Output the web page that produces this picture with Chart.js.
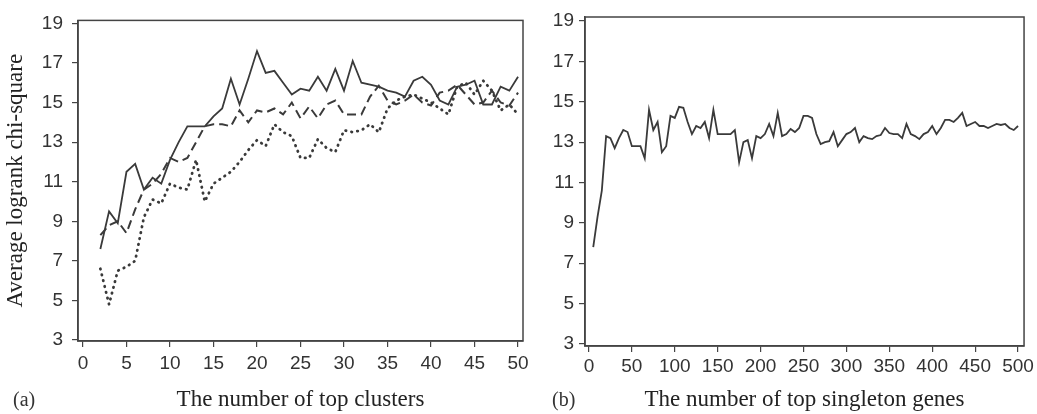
<!DOCTYPE html>
<html lang="en">
<head>
  <meta charset="UTF-8">
  <title>Average logrank chi-square</title>
  <script src="https://cdn.jsdelivr.net/npm/chart.js"></script>
  <style>
    body { margin: 0; background: #fff; }
    .wrap { position: relative; width: 1037px; height: 414px; }
    .panel { position: absolute; top: 0; height: 414px; }
    #boxA { left: 0; width: 545px; }
    #boxB { left: 545px; width: 492px; }
    .tag { position: absolute; top: 388px; font: 20px "Liberation Serif", serif; color: #333; }
  </style>
</head>
<body>
  <div class="wrap">
    <div class="panel" id="boxA"><canvas id="chartA"></canvas></div>
    <div class="panel" id="boxB"><canvas id="chartB"></canvas></div>
    <div class="tag" style="left:13px">(a)</div>
    <div class="tag" style="left:552px">(b)</div>
  </div>

  <script>
    // (a) top clusters
    const clusterN = [2, 3, 4, 5, 6, 7, 8, 9, 10, 11, 12, 13, 14, 15, 16, 17, 18, 19, 20, 21, 22, 23, 24, 25, 26,
      27, 28, 29, 30, 31, 32, 33, 34, 35, 36, 37, 38, 39, 40, 41, 42, 43, 44, 45, 46, 47, 48, 49, 50];
    const solidA = [7.6, 9.5, 8.9, 11.5, 11.9, 10.6, 11.2, 10.9, 12.1, 13.0, 13.8, 13.8, 13.8, 14.3, 14.7, 16.2, 14.9,
      16.2, 17.6, 16.5, 16.6, 16.0, 15.4, 15.7, 15.6, 16.3, 15.6, 16.7, 15.6, 17.1, 16.0, 15.9, 15.8, 15.6, 15.5,
      15.3, 16.1, 16.3, 15.9, 15.1, 14.9, 15.8, 15.9, 16.1, 14.9, 14.9, 15.8, 15.6, 16.3];
    const dashedA = [8.3, 8.8, 9.0, 8.4, 9.6, 10.6, 10.9, 11.4, 12.2, 12.0, 12.2, 13.0, 13.8, 13.9, 13.9, 13.8, 14.6,
      14.0, 14.6, 14.5, 14.7, 14.4, 15.0, 14.2, 14.8, 14.2, 14.9, 15.1, 14.4, 14.4, 14.4, 15.3, 15.85, 15.1, 14.9,
      15.1, 15.4, 15.0, 14.85, 15.5, 15.6, 15.9, 15.4, 14.9, 15.0, 15.6, 15.0, 14.85, 15.5];
    const dottedA = [6.6, 4.8, 6.5, 6.7, 7.0, 9.2, 10.1, 9.9, 10.9, 10.7, 10.6, 12.1, 10.0, 10.9, 11.2, 11.5, 12.0,
      12.6, 13.1, 12.8, 13.9, 13.5, 13.3, 12.2, 12.2, 13.15, 12.7, 12.5, 13.6, 13.5, 13.6, 13.9, 13.5, 14.7, 15.1,
      15.3, 15.4, 15.2, 15.0, 14.7, 14.4, 15.8, 16.0, 15.4, 16.1, 15.6, 14.6, 14.9, 14.4];

    // (b) top singleton genes
    const geneN = [5, 10, 15, 20, 25, 30, 35, 40, 45, 50, 55, 60, 65, 70, 75, 80, 85, 90, 95, 100,
      105, 110, 115, 120, 125, 130, 135, 140, 145, 150, 155, 160, 165, 170, 175, 180, 185, 190, 195, 200,
      205, 210, 215, 220, 225, 230, 235, 240, 245, 250, 255, 260, 265, 270, 275, 280, 285, 290, 295, 300,
      305, 310, 315, 320, 325, 330, 335, 340, 345, 350, 355, 360, 365, 370, 375, 380, 385, 390, 395, 400,
      405, 410, 415, 420, 425, 430, 435, 440, 445, 450, 455, 460, 465, 470, 475, 480, 485, 490, 495, 500];
    const chiB = [7.8, 9.3, 10.6, 13.3, 13.2, 12.7, 13.2, 13.6, 13.5, 12.8, 12.8, 12.8, 12.2, 14.6, 13.6, 14.0, 12.5, 12.8, 14.3, 14.2,
      14.75, 14.7, 14.0, 13.4, 13.8, 13.7, 14.0, 13.2, 14.6, 13.4, 13.4, 13.4, 13.4, 13.6, 12.0, 13.0, 13.1, 12.2, 13.3, 13.2,
      13.4, 13.9, 13.3, 14.45, 13.3, 13.4, 13.65, 13.5, 13.7, 14.3, 14.3, 14.2, 13.4, 12.9, 13.0, 13.05, 13.5, 12.8, 13.1, 13.4,
      13.5, 13.7, 13.0, 13.3, 13.2, 13.15, 13.3, 13.35, 13.7, 13.45, 13.4, 13.4, 13.2, 13.9, 13.4, 13.3, 13.15, 13.4, 13.5, 13.8,
      13.4, 13.7, 14.1, 14.1, 14.0, 14.2, 14.45, 13.8, 13.9, 14.0, 13.8, 13.8, 13.7, 13.8, 13.9, 13.85, 13.9, 13.7, 13.6, 13.8];

    const yTicks = [3, 5, 7, 9, 11, 13, 15, 17, 19];
    const xTicksA = [0, 5, 10, 15, 20, 25, 30, 35, 40, 45, 50];
    const xTicksB = [0, 50, 100, 150, 200, 250, 300, 350, 400, 450, 500];

    const ink = '#3a3a3a';
    const numFont = '"Liberation Sans Narrow", "Liberation Sans", Arial, sans-serif';
    const serif = '"Liberation Serif", "Times New Roman", serif';

    // box round the plot area
    const frame = {
      id: 'frame',
      afterDraw(chart) {
        const { ctx, chartArea: a } = chart;
        ctx.save();
        ctx.strokeStyle = '#444';
        ctx.lineWidth = 1.5;
        ctx.strokeRect(a.left, a.top, a.right - a.left, a.bottom - a.top);
        ctx.restore();
      }
    };

    const pts = (xs, ys) => xs.map((x, i) => ({ x: x, y: ys[i] }));

    function xAxis(min, max, ticks, title, h, pad) {
      return {
        type: 'linear', min: min, max: max,
        afterBuildTicks: s => { s.ticks = ticks.map(v => ({ value: v })); },
        afterFit: s => { s.height = h; },
        grid: { drawOnChartArea: false, tickLength: 6, color: '#444', lineWidth: 1.2 },
        border: { color: '#444', width: 1.5 },
        ticks: { color: '#333', autoSkip: false, maxRotation: 0, padding: pad, font: { family: numFont, size: 19 } },
        title: { display: true, text: title, color: '#222', padding: { top: 0, bottom: 0 }, font: { family: serif, size: 23 } }
      };
    }

    function yAxis(min, max, w, pad, title) {
      return {
        min: min, max: max,
        afterBuildTicks: s => { s.ticks = yTicks.map(v => ({ value: v })); },
        afterFit: s => { s.width = w; },
        grid: { drawOnChartArea: false, tickLength: 6, color: '#444', lineWidth: 1.2 },
        border: { color: '#444', width: 1.5 },
        ticks: { color: '#333', padding: pad, font: { family: numFont, size: 19 } },
        title: { display: !!title, text: title, color: '#222', padding: { top: 2, bottom: 0 }, font: { family: serif, size: 23 } }
      };
    }

    const lineStyle = { borderColor: ink, pointRadius: 0, tension: 0, fill: false };

    new Chart(document.getElementById('chartA'), {
      type: 'line',
      data: {
        datasets: [
          Object.assign({ label: 'solid', data: pts(clusterN, solidA), borderWidth: 1.8 }, lineStyle),
          Object.assign({ label: 'dashed', data: pts(clusterN, dashedA), borderWidth: 2, borderDash: [9, 5] }, lineStyle),
          Object.assign({ label: 'dotted', data: pts(clusterN, dottedA), borderWidth: 2.8, borderDash: [0.5, 5.5], borderCapStyle: 'round' }, lineStyle)
        ]
      },
      options: {
        responsive: true,
        maintainAspectRatio: false,
        animation: false,
        layout: { padding: { top: 15, right: 22, left: 0, bottom: 0 } },
        scales: {
          x: xAxis(-0.57, 50.57, xTicksA, 'The number of top clusters', 73, 5),
          y: yAxis(2.95, 19.15, 78, 9, 'Average logrank chi-square')
        },
        plugins: { legend: { display: false }, tooltip: { enabled: false } }
      },
      plugins: [frame]
    });

    new Chart(document.getElementById('chartB'), {
      type: 'line',
      data: {
        datasets: [
          Object.assign({ label: 'chi-square', data: pts(geneN, chiB), borderWidth: 1.8 }, lineStyle)
        ]
      },
      options: {
        responsive: true,
        maintainAspectRatio: false,
        animation: false,
        layout: { padding: { top: 17, right: 8, left: 0, bottom: 0 } },
        scales: {
          x: xAxis(-4.6, 507, xTicksB, 'The number of top singleton genes', 68, 3),
          y: yAxis(2.9, 19.2, 40, 5, '')
        },
        plugins: { legend: { display: false }, tooltip: { enabled: false } }
      },
      plugins: [frame]
    });
  </script>
</body>
</html>
